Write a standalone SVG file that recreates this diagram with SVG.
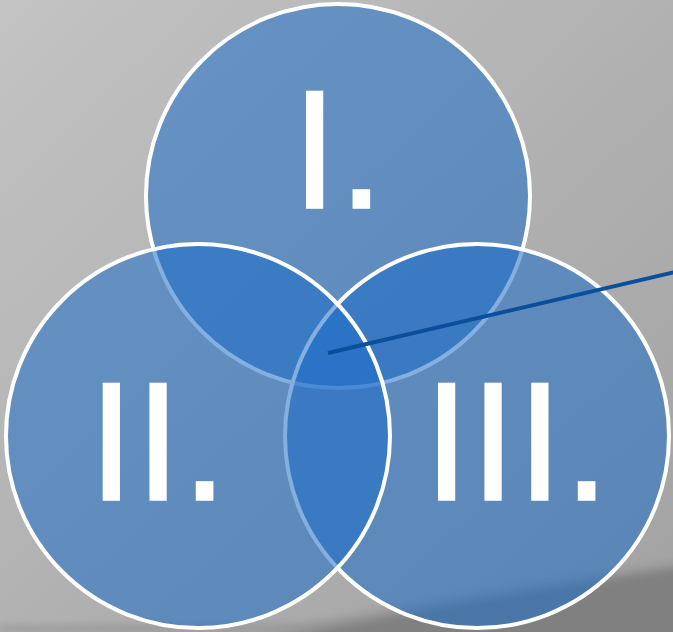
<svg xmlns="http://www.w3.org/2000/svg" width="673" height="632" viewBox="0 0 673 632">
  <defs>
    <linearGradient id="bg" x1="0" y1="0" x2="1" y2="1">
      <stop offset="0" stop-color="#c3c3c3"/>
      <stop offset="0.6" stop-color="#aeaeae"/>
      <stop offset="1" stop-color="#a2a2a2"/>
    </linearGradient>
    <filter id="soft" x="-10%" y="-50%" width="120%" height="200%">
      <feGaussianBlur stdDeviation="4"/>
    </filter>
    <style>
      .circ { fill: #1e6ec8; fill-opacity: 0.55; stroke: #ffffff; stroke-width: 4; }
      .lbl { font-family: "Liberation Sans", Arial, sans-serif; font-size: 168px; fill: #ffffff; stroke: #ffffff; stroke-width: 1.5; stroke-linejoin: miter; text-anchor: middle; }
      .conn { stroke: #0b4f9c; stroke-width: 4; fill: none; }
    </style>
  </defs>
  <rect width="673" height="632" fill="url(#bg)"/>
  <path d="M 0 626 L 673 622 L 673 632 L 0 632 Z" fill="#959595" filter="url(#soft)"/>
  <path d="M 240 640 Q 440 592 690 560 L 690 640 Z" fill="#9a9a9a" filter="url(#soft)"/>
  <path d="M 270 640 Q 460 600 690 566 L 690 640 Z" fill="#808080" filter="url(#soft)"/>
  <g id="node-I">
    <circle class="circ" cx="338" cy="196" r="192"/>
  </g>
  <g id="node-III">
    <circle class="circ" cx="477" cy="436" r="192"/>
  </g>
  <g id="node-II">
    <circle class="circ" cx="198" cy="436" r="192"/>
  </g>
  <g id="labels">
    <text class="lbl" x="338" y="208">I.</text>
    <text class="lbl" x="158" y="500">II.</text>
    <text class="lbl" x="516.5" y="500">III.</text>
  </g>
  <g id="connectors">
    <line class="conn" x1="328" y1="353" x2="675" y2="272"/>
  </g>
</svg>
